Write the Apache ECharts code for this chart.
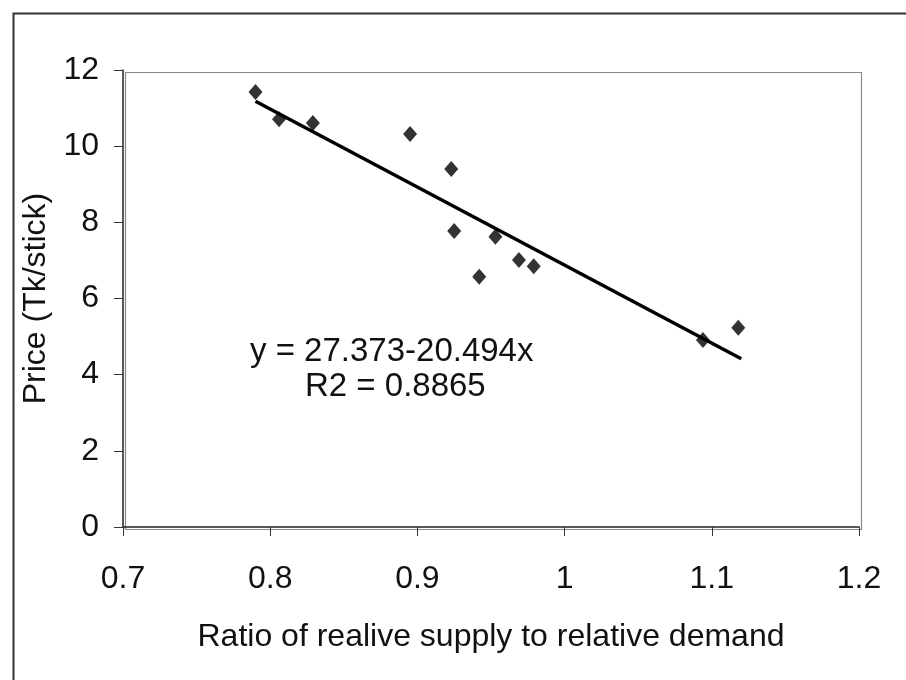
<!DOCTYPE html>
<html>
<head>
<meta charset="utf-8">
<script src="https://cdn.jsdelivr.net/npm/echarts@6/dist/echarts.min.js"></script>
<style>
  html, body { margin: 0; padding: 0; background: #fff; }
  #chart { width: 906px; height: 680px; }
</style>
</head>
<body>
<div id="chart"></div>
<script>
// observed points: ratio of relative supply to relative demand vs price
const ratio = [0.79, 0.806, 0.829, 0.895, 0.923, 0.925, 0.942, 0.953, 0.969, 0.979, 1.094, 1.118];
const price = [11.42, 10.71, 10.61, 10.32, 9.40, 7.77, 6.57, 7.62, 7.01, 6.85, 4.91, 5.23];

// fitted line end points
const trendX = [0.79, 1.12];
const trendY = [11.18, 4.42];

const xTicks = [0.7, 0.8, 0.9, 1, 1.1, 1.2];
const yTicks = [0, 2, 4, 6, 8, 10, 12];

const equationText = "y = 27.373-20.494x";
const r2Text = "R2 = 0.8865";

const font = "Liberation Sans, Arial, sans-serif";

const chart = echarts.init(document.getElementById("chart"));

const option = {
  animation: false,
  backgroundColor: "#ffffff",
  grid: { left: 123, right: 47, top: 70, bottom: 153 },
  xAxis: {
    type: "value",
    min: xTicks[0],
    max: xTicks[xTicks.length - 1],
    interval: 0.1,
    name: "Ratio of realive supply to relative demand",
    nameLocation: "middle",
    nameGap: 94,
    nameTextStyle: { color: "#111", fontSize: 32, fontFamily: font },
    axisLine: { show: true, lineStyle: { color: "#222", width: 1.5 } },
    axisTick: { show: true, length: 9, inside: false, lineStyle: { color: "#333" } },
    axisLabel: {
      color: "#111",
      fontSize: 32,
      fontFamily: font,
      margin: 36,
      formatter: (v) => String(+v.toFixed(1)),
    },
    splitLine: { show: false },
  },
  yAxis: {
    type: "value",
    min: yTicks[0],
    max: yTicks[yTicks.length - 1],
    interval: 2,
    name: "Price (Tk/stick)",
    nameLocation: "middle",
    nameGap: 60,
    nameTextStyle: { color: "#111", fontSize: 32, fontFamily: font },
    axisLine: { show: true, lineStyle: { color: "#222", width: 1.5 } },
    axisTick: { show: true, length: 9, inside: false, lineStyle: { color: "#333" } },
    axisLabel: { color: "#111", fontSize: 32, fontFamily: font, margin: 24 },
    splitLine: { show: false },
  },
  graphic: [
    {
      type: "rect",
      left: 11,
      top: 11,
      shape: { width: 910, height: 700 },
      style: { fill: "none", stroke: "#333", lineWidth: 2 },
      z: -1,
    },
    {
      type: "rect",
      left: 123,
      top: 70,
      shape: { width: 736, height: 457 },
      style: { fill: "none", stroke: "#888", lineWidth: 1.2 },
      z: -1,
    },
    {
      type: "text",
      left: 250,
      top: 335,
      style: { text: equationText, fill: "#111", fontSize: 33, fontFamily: font },
    },
    {
      type: "text",
      left: 305,
      top: 370,
      style: { text: r2Text, fill: "#111", fontSize: 33, fontFamily: font },
    },
  ],
  series: [
    {
      name: "Trend",
      type: "line",
      data: trendX.map((x, i) => [x, trendY[i]]),
      symbol: "none",
      lineStyle: { color: "#000", width: 3.5 },
      z: 2,
    },
    {
      name: "Observed",
      type: "scatter",
      data: ratio.map((x, i) => [x, price[i]]),
      symbol: "diamond",
      symbolSize: [14, 16],
      itemStyle: { color: "#000" },
      z: 3,
    },
  ],
};

chart.setOption(option);
</script>
</body>
</html>
